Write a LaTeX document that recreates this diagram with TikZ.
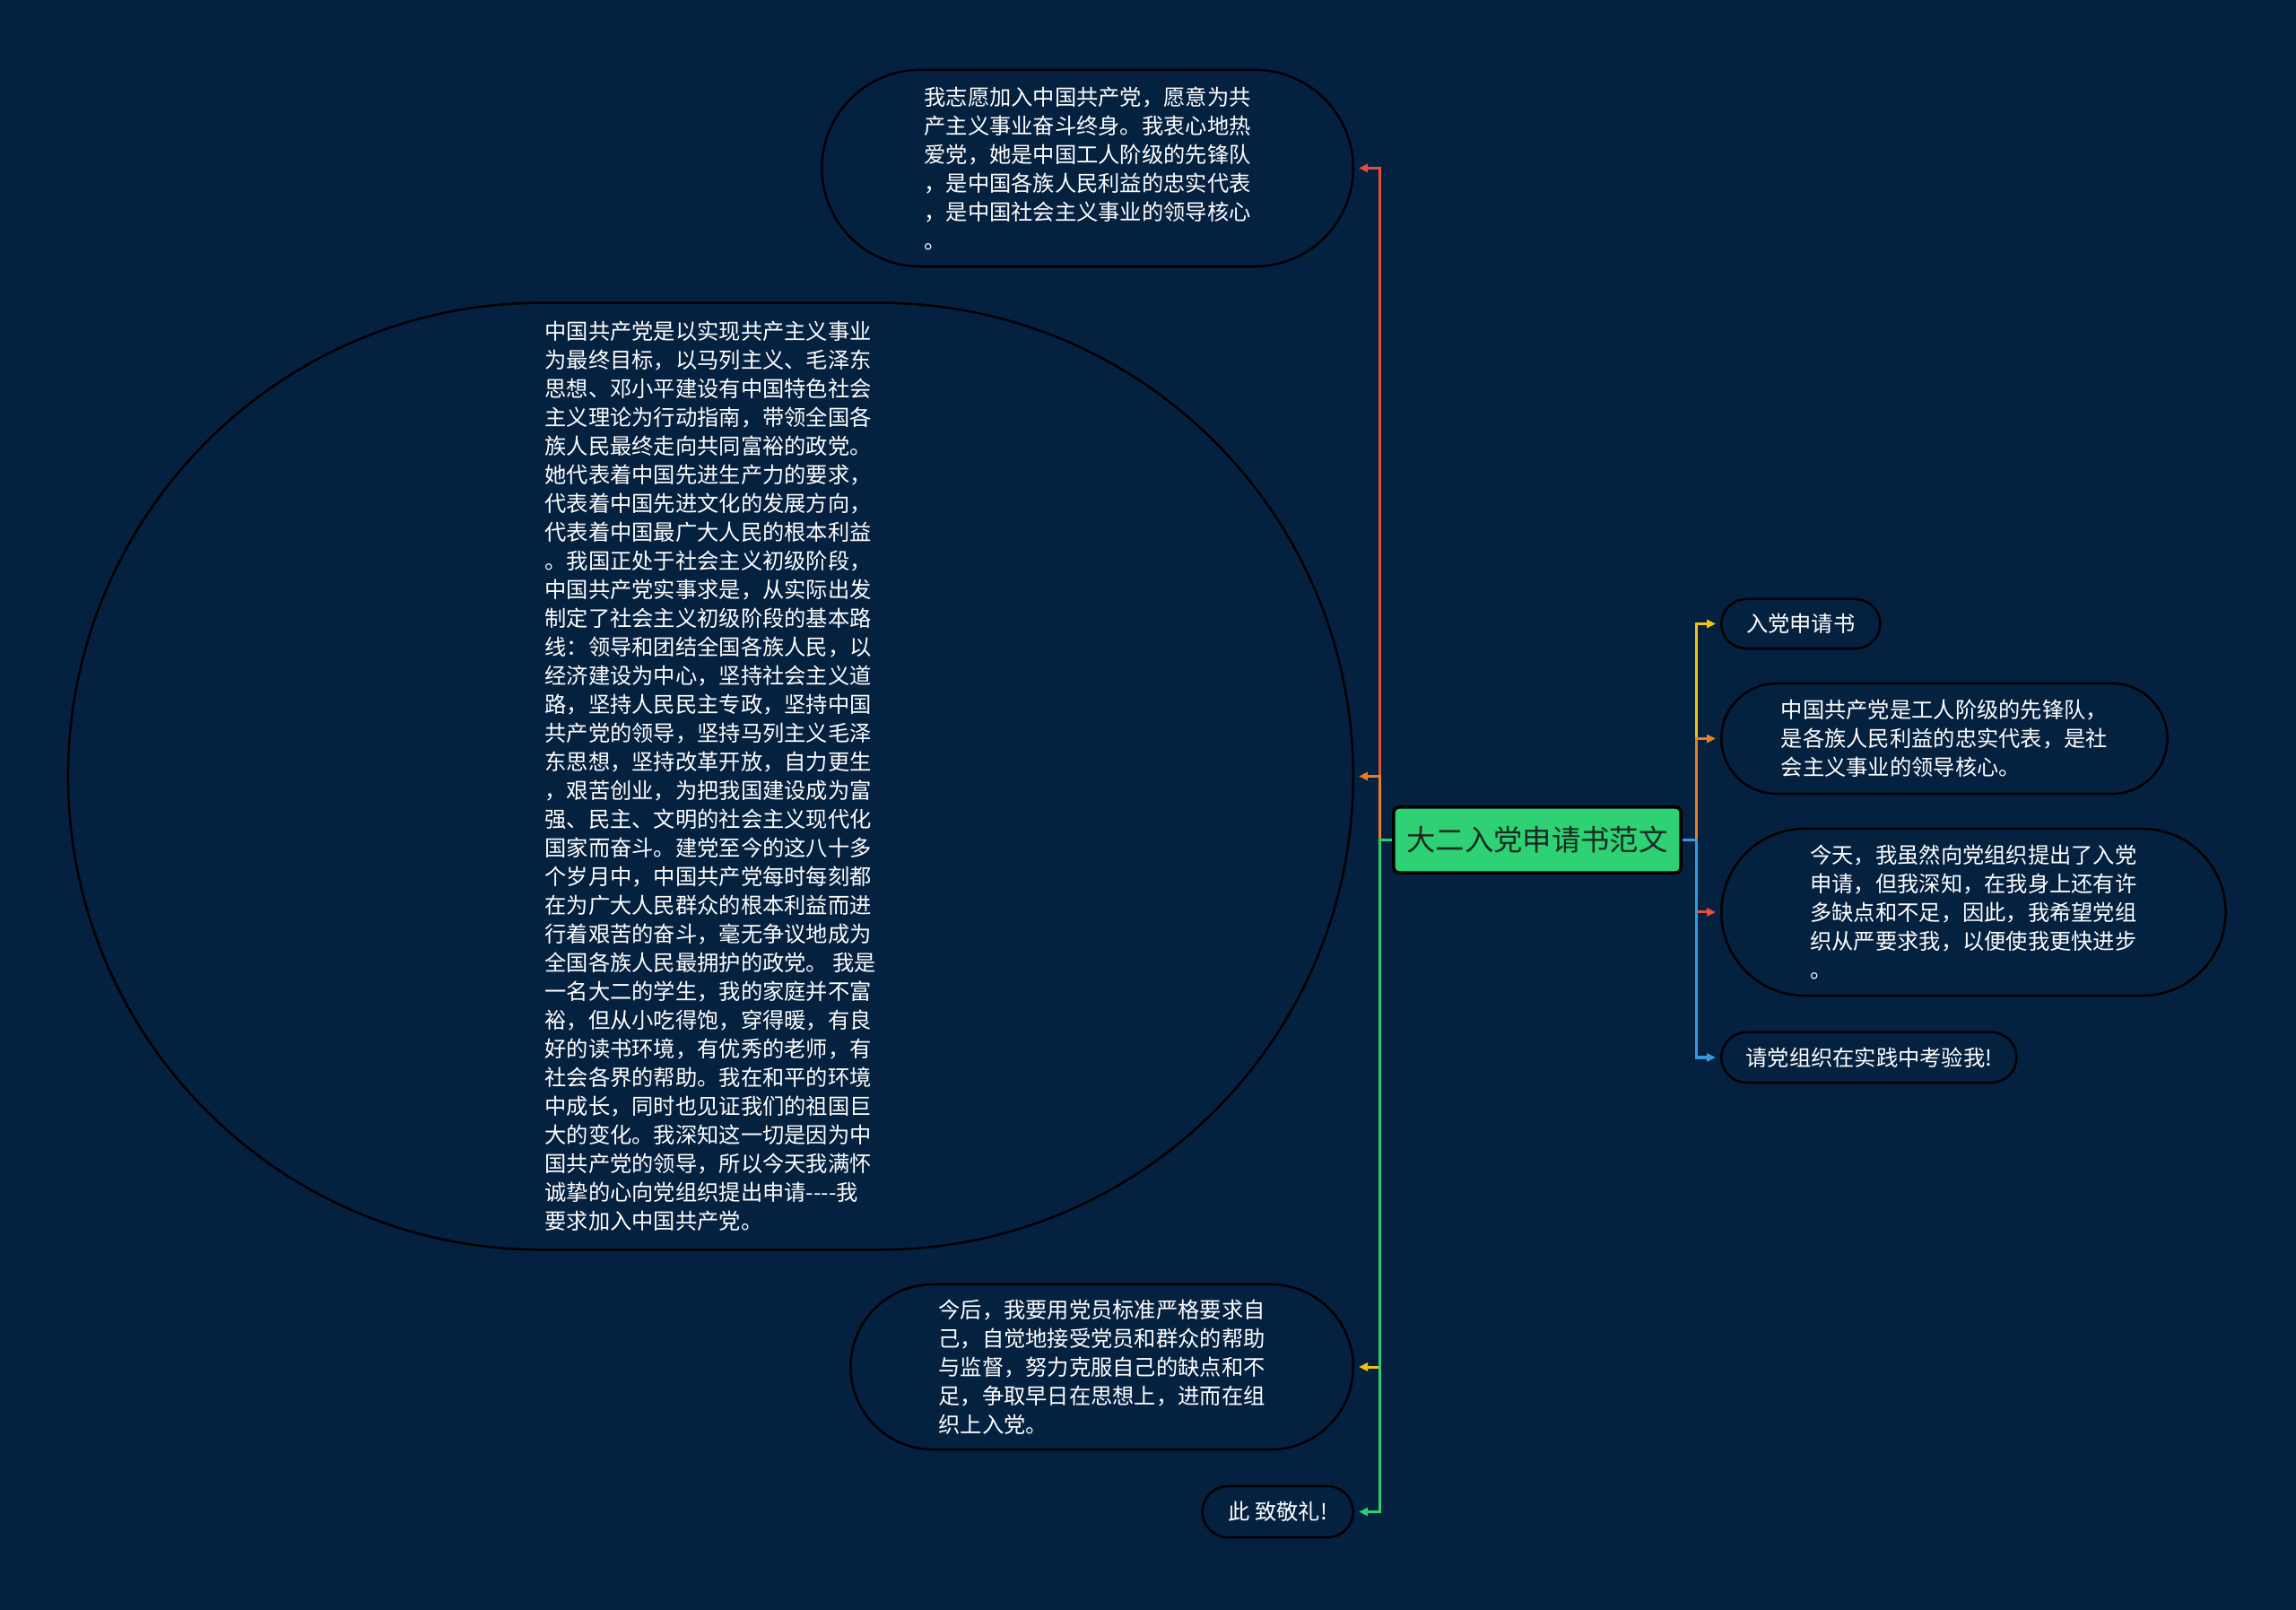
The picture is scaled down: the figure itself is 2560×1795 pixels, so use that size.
\documentclass[tikz,border=0pt]{standalone}
\usepackage{fontspec}
\setmainfont{Noto Sans CJK SC}
\usetikzlibrary{shapes.misc,arrows.meta}

\definecolor{bgnavy}{RGB}{5,33,64}
\definecolor{rootgreen}{RGB}{46,209,115}
\definecolor{roottext}{RGB}{24,42,34}
\definecolor{linkred}{RGB}{231,76,60}
\definecolor{linkorange}{RGB}{230,126,34}
\definecolor{linkyellow}{RGB}{241,196,15}
\definecolor{linkgreen}{RGB}{46,204,113}
\definecolor{linkblue}{RGB}{52,152,219}

\begin{document}
\begin{tikzpicture}[x=0.01cm, y=-0.01cm,
    topic/.style={rounded rectangle, draw=black, line width=0.025cm, fill=bgnavy,
                  text=white, align=left, inner sep=0pt,
                  font=\fontsize{6.9pt}{9.1pt}\selectfont},
    central/.style={rectangle, rounded corners=0.06cm, draw=black, line width=0.035cm,
                    fill=rootgreen, text=roottext, inner sep=0pt,
                    minimum width=3.2cm, minimum height=0.73cm,
                    font=\fontsize{9.2pt}{11pt}\selectfont},
    link/.style={line width=0.03cm, -{Triangle[length=0.1cm,width=0.09cm]}, shorten >=0.05cm}]

    \fill[bgnavy] (0,0) rectangle (2560,1795);
    \useasboundingbox (0,0) rectangle (2560,1795);

    % central topic
    \node[central] (root) at (1714,936.5) {大二入党申请书范文};

    % left side
    \node[topic, anchor=east, minimum width=5.92cm, minimum height=2.19cm] (vow) at (1510,187.5) {%
      我志愿加入中国共产党，愿意为共\\
      产主义事业奋斗终身。我衷心地热\\
      爱党，她是中国工人阶级的先锋队\\
      ，是中国各族人民利益的忠实代表\\
      ，是中国社会主义事业的领导核心\\
      。};
    \node[topic, anchor=east, minimum width=14.32cm, minimum height=10.55cm] (party) at (1510,865.5) {%
      中国共产党是以实现共产主义事业\\
      为最终目标，以马列主义、毛泽东\\
      思想、邓小平建设有中国特色社会\\
      主义理论为行动指南，带领全国各\\
      族人民最终走向共同富裕的政党。\\
      她代表着中国先进生产力的要求，\\
      代表着中国先进文化的发展方向，\\
      代表着中国最广大人民的根本利益\\
      。我国正处于社会主义初级阶段，\\
      中国共产党实事求是，从实际出发\\
      制定了社会主义初级阶段的基本路\\
      线：领导和团结全国各族人民，以\\
      经济建设为中心，坚持社会主义道\\
      路，坚持人民民主专政，坚持中国\\
      共产党的领导，坚持马列主义毛泽\\
      东思想，坚持改革开放，自力更生\\
      ，艰苦创业，为把我国建设成为富\\
      强、民主、文明的社会主义现代化\\
      国家而奋斗。建党至今的这八十多\\
      个岁月中，中国共产党每时每刻都\\
      在为广大人民群众的根本利益而进\\
      行着艰苦的奋斗，毫无争议地成为\\
      全国各族人民最拥护的政党。 我是\\
      一名大二的学生，我的家庭并不富\\
      裕，但从小吃得饱，穿得暖，有良\\
      好的读书环境，有优秀的老师，有\\
      社会各界的帮助。我在和平的环境\\
      中成长，同时也见证我们的祖国巨\\
      大的变化。我深知这一切是因为中\\
      国共产党的领导，所以今天我满怀\\
      诚挚的心向党组织提出申请-{}-{}-{}-我\\
      要求加入中国共产党。};
    \node[topic, anchor=east, minimum width=5.6cm, minimum height=1.84cm] (future) at (1510,1524) {%
      今后，我要用党员标准严格要求自\\
      己，自觉地接受党员和群众的帮助\\
      与监督，努力克服自己的缺点和不\\
      足，争取早日在思想上，进而在组\\
      织上入党。};
    \node[topic, anchor=east, minimum width=1.68cm, minimum height=0.57cm] (salute) at (1510,1685.5) {此 致敬礼!};

    % right side
    \node[topic, anchor=west, minimum width=1.77cm, minimum height=0.55cm] (title) at (1918,695.5) {入党申请书};
    \node[topic, anchor=west, minimum width=4.97cm, minimum height=1.23cm] (pioneer) at (1918,823.5) {%
      中国共产党是工人阶级的先锋队，\\
      是各族人民利益的忠实代表，是社\\
      会主义事业的领导核心。};
    \node[topic, anchor=west, minimum width=5.62cm, minimum height=1.86cm] (today) at (1918,1017) {%
      今天，我虽然向党组织提出了入党\\
      申请，但我深知，在我身上还有许\\
      多缺点和不足，因此，我希望党组\\
      织从严要求我，以便使我更快进步\\
      。};
    \node[topic, anchor=west, minimum width=3.29cm, minimum height=0.56cm] (test) at (1918,1179) {请党组织在实践中考验我!};

    \coordinate (ljoin) at (1538,936.5);
    \coordinate (rjoin) at (1891,936.5);

    % connectors
    \draw[link, linkred] (root.west) -- (ljoin) |- (vow.east);
    \draw[link, linkorange] (root.west) -- (ljoin) |- (party.east);
    \draw[link, linkyellow] (root.west) -- (ljoin) |- (future.east);
    \draw[link, linkgreen] (root.west) -- (ljoin) |- (salute.east);

    \draw[link, linkyellow] (root.east) -- (rjoin) |- (title.west);
    \draw[link, linkorange] (root.east) -- (rjoin) |- (pioneer.west);
    \draw[link, linkred] (root.east) -- (rjoin) |- (today.west);
    \draw[link, linkblue] (root.east) -- (rjoin) |- (test.west);
\end{tikzpicture}
\end{document}
